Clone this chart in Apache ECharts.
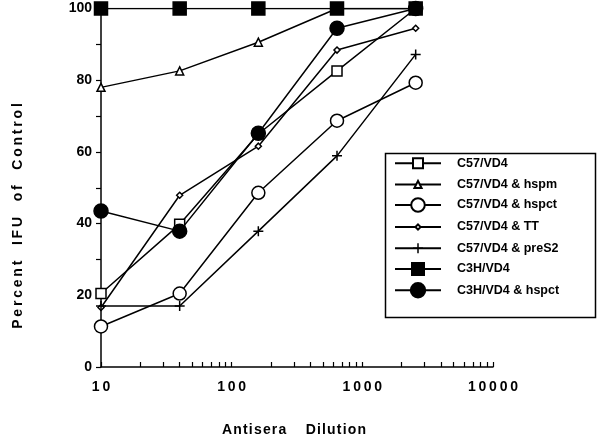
<!DOCTYPE html>
<html><head><meta charset="utf-8">
<script src="https://cdn.jsdelivr.net/npm/echarts@6/dist/echarts.min.js"></script>
<style>html,body{margin:0;padding:0;background:#fff}#c{width:602px;height:447px}</style>
</head><body><div id="c"></div>
<script>
// ---- data ----
const dilutions = [10, 40, 160, 640, 2560];
const seriesNames = ['C57/VD4', 'C57/VD4 & hspm', 'C57/VD4 & hspct', 'C57/VD4 & TT', 'C57/VD4 & preS2', 'C3H/VD4', 'C3H/VD4 & hspct'];
const c57vd4   = [20.5, 39.8, 65.0, 82.6, 100];
const c57hspm  = [78.0, 82.6, 90.6, 100, 100];
const c57hspct = [11.3, 20.5, 48.6, 68.7, 79.3];
const c57tt    = [16.6, 47.9, 61.6, 88.4, 94.5];
const c57preS2 = [17.0, 17.0, 37.9, 58.9, 87.2];
const c3hvd4   = [100, 100, 100, 100, 100];
const c3hhspct = [43.5, 37.9, 65.2, 94.5, 100];
const xTickLabels = [10, 100, 1000, 10000];
const xTickMarks = [10,20,30,40,50,60,70,80,90,100,200,300,400,500,600,700,800,900,1000,2000,3000,4000,5000,6000,7000,8000,9000,10000];
const yTickLabels = [0, 20, 40, 60, 80, 100];
const xTitle = 'Antisera Dilution';
const yTitle = 'Percent IFU of Control';

// ---- styling ----
const FONT = 'Liberation Sans';
const THIN = '\u2009';
const HAIR = '\u200A';
const spaced = (s, sep, gap) => s.split(' ').map(w => w.split('').join(sep)).join(gap);
const plus = 'path://M4.25,0h1.5v4.25h4.25v1.5h-4.25v4.25h-1.5v-4.25h-4.25v-1.5h4.25z';
const allValues = [c57vd4, c57hspm, c57hspct, c57tt, c57preS2, c3hvd4, c3hhspct];
const symbols = ['rect', 'triangle', 'circle', 'diamond', plus, 'rect', 'circle'];
const symSizes = [10, 8, 13, 6, 10, 13, 14];
const fills = ['#fff', '#fff', '#fff', '#fff', '#000', '#000', '#000'];
const legendH = [12.5, 9, 17, 6.5, 12.5, 15, 18];
const rowY = [163.3, 184.5, 205.7, 227, 248.2, 269.5, 291];
const LEG_TXT_H = 14;

const chart = echarts.init(document.getElementById('c'), null, {renderer: 'canvas'});
const option = {
  animation: false,
  backgroundColor: '#fff',
  grid: {left: 101, right: 109, top: 8.5, bottom: 80, containLabel: false},
  xAxis: {
    type: 'log', logBase: 10, min: 10, max: 10000,
    axisLine: {lineStyle: {color: '#000', width: 1.5}},
    axisTick: {show: true, inside: true, length: 5, lineStyle: {color: '#000', width: 1.2}, customValues: xTickMarks},
    minorTick: {show: false},
    splitLine: {show: false},
    axisLabel: {
      color: '#000', fontFamily: FONT, fontWeight: 'bold', fontSize: 14, margin: 13,
      customValues: xTickLabels,
      formatter: v => String(Math.round(v)).split('').join(THIN)
    }
  },
  yAxis: {
    type: 'value', min: 0, max: 100, interval: 20,
    axisLine: {show: true, lineStyle: {color: '#000', width: 1.5}},
    axisTick: {show: true, inside: false, length: 5, lineStyle: {color: '#000', width: 1.2}},
    minorTick: {show: true, splitNumber: 2, length: 5, lineStyle: {color: '#000', width: 1.2}},
    splitLine: {show: false},
    axisLabel: {color: '#000', fontFamily: FONT, fontWeight: 'bold', fontSize: 14, margin: 9,
      formatter: v => yTickLabels.includes(v) ? String(v) : ''}
  },
  legend: seriesNames.map((n, i) => ({
    data: [n], orient: 'vertical', left: 394, top: rowY[i] - Math.max(legendH[i], LEG_TXT_H) / 2,
    itemWidth: 46, itemHeight: legendH[i], padding: 0, selectedMode: false,
    textStyle: {fontFamily: FONT, fontWeight: 'bold', fontSize: 12.5, lineHeight: LEG_TXT_H, color: '#000', padding: [0, 0, 0, 11]}
  })),
  graphic: [
    {type: 'rect', left: 383, top: 151, shape: {width: 210, height: 164},
     style: {fill: 'none', stroke: '#000', lineWidth: 1.5}, silent: true},
    {type: 'text', x: 294, y: 430, style: {text: spaced(xTitle, HAIR, '     '), font: 'bold 14px "Liberation Sans"', fill: '#000', align: 'center', verticalAlign: 'middle'}},
    {type: 'text', x: 18, y: 216, rotation: Math.PI / 2, style: {text: spaced(yTitle, THIN, '    '), font: 'bold 14px "Liberation Sans"', fill: '#000', align: 'center', verticalAlign: 'middle'}}
  ],
  series: seriesNames.map((n, i) => ({
    name: n, type: 'line',
    data: dilutions.map((d, j) => [d, allValues[i][j]]),
    symbol: symbols[i], symbolSize: symSizes[i], showSymbol: true, showAllSymbol: true,
    lineStyle: {color: '#000', width: 1.5},
    itemStyle: {color: fills[i], borderColor: '#000', borderWidth: i === 4 ? 0 : 1.5},
    z: 2 + i
  }))
};
chart.setOption(option);
</script></body></html>
